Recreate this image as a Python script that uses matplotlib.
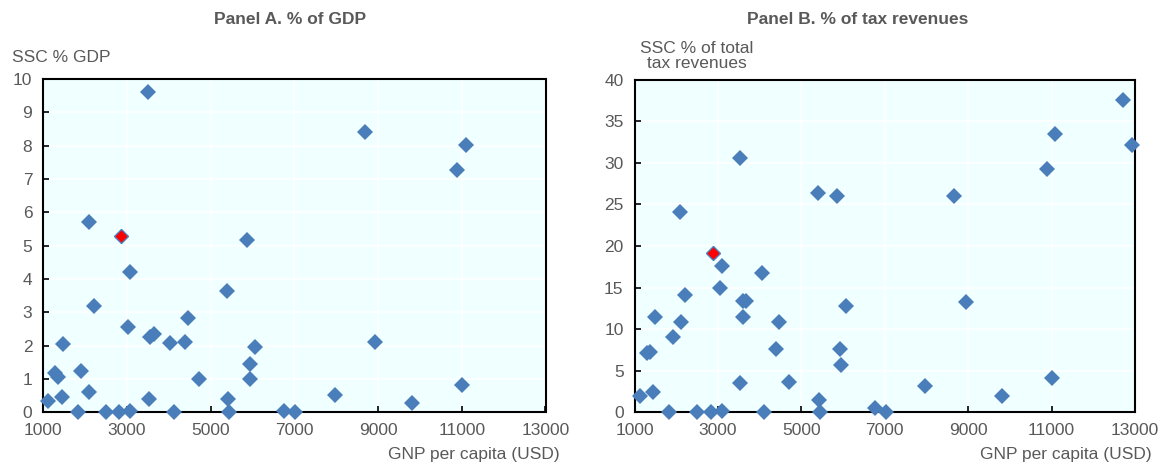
import matplotlib
matplotlib.use('Agg')
import matplotlib.pyplot as plt
from matplotlib.ticker import MultipleLocator

# ── Data ─────────────────────────────────────────────────────────────────────
gnp_a = [1118, 1278, 1358, 1439, 1478, 1838, 1895, 2078, 2087, 2198,
         2503, 2798, 3024, 3079, 3079, 3511, 3523, 3559, 3655, 4027,
         4118, 4375, 4464, 4711, 5383, 5400, 5424, 5863, 5928, 5942,
         6055, 6759, 7015, 7959, 8679, 8936, 9817, 10887, 11000, 11089]
ssc_gdp = [0.35, 1.17, 1.07, 0.45, 2.05, 0.0, 1.25, 5.72, 0.61, 3.20,
           0.0, 0.0, 2.57, 4.22, 0.05, 9.60, 0.39, 2.27, 2.34, 2.07,
           0.0, 2.12, 2.83, 1.00, 3.64, 0.39, 0.0, 5.17, 1.44, 1.00,
           1.95, 0.05, 0.0, 0.52, 8.40, 2.12, 0.27, 7.28, 0.82, 8.03]

gnp_b = [1127, 1288, 1367, 1446, 1494, 1830, 1911, 2086, 2110, 2206,
         2487, 2830, 3046, 3093, 3093, 3525, 3525, 3590, 3669, 3590,
         4060, 4100, 4389, 4468, 4707, 5403, 5412, 5444, 5858, 5924,
         5948, 6067, 6763, 7019, 7962, 8664, 8937, 9815, 10887, 11000,
         11087, 12703, 12918]
ssc_tax = [2.0, 7.1, 7.3, 2.5, 11.4, 0.0, 9.0, 24.1, 10.9, 14.1,
           0.0, 0.0, 15.0, 17.6, 0.2, 30.6, 3.5, 13.4, 13.4, 11.4,
           16.7, 0.0, 7.6, 10.8, 3.7, 26.3, 1.5, 0.0, 26.0, 7.6,
           5.7, 12.8, 0.55, 0.0, 3.2, 26.0, 13.2, 1.96, 29.3, 4.16,
           33.4, 37.5, 32.1]

# highlighted country
hl_gnp_a, hl_gdp = 2855, 5.30
hl_gnp_b, hl_tax = 2870, 19.2

x_ticks = [1000, 3000, 5000, 7000, 9000, 11000, 13000]

# ── Style ────────────────────────────────────────────────────────────────────
FONT = ['Liberation Sans Narrow', 'Liberation Sans', 'DejaVu Sans']
plt.rcParams['font.family'] = FONT
TXT = '#595959'
BLUE = '#4A7EBB'
BG = '#F0FFFF'

W, H = 1166, 466
fig = plt.figure(figsize=(W / 100, H / 100), dpi=100)


def px_axes(l, r, t, b):
    return fig.add_axes([l / W, 1 - b / H, (r - l) / W, (b - t) / H])


def style(ax, ymax, ystep):
    ax.set_facecolor(BG)
    ax.set_xlim(1000, 13000)
    ax.set_ylim(0, ymax)
    ax.set_xticks(x_ticks)
    ax.yaxis.set_major_locator(MultipleLocator(ystep))
    ax.grid(True, color='white', linewidth=1.2)
    ax.set_axisbelow(True)
    for s in ax.spines.values():
        s.set_color('black')
        s.set_linewidth(1.5)
    ax.tick_params(direction='in', length=4, width=1.2, color='black',
                   labelcolor=TXT, labelsize=12.5, pad=8)


ax1 = px_axes(43.4, 545.5, 79, 412.3)
ax2 = px_axes(634.7, 1135, 79.5, 412.3)

style(ax1, 10, 1)
style(ax2, 40, 5)

MS = 7.8
ax1.plot(gnp_a, ssc_gdp, 'D', color=BLUE, ms=MS, mew=0, clip_on=False, zorder=3)
ax1.plot([hl_gnp_a], [hl_gdp], 'D', color='red', mec=BLUE, mew=1, ms=MS - 1,
         clip_on=False, zorder=4)
ax2.plot(gnp_b, ssc_tax, 'D', color=BLUE, ms=MS, mew=0, clip_on=False, zorder=3)
ax2.plot([hl_gnp_b], [hl_tax], 'D', color='red', mec=BLUE, mew=1, ms=MS - 1,
         clip_on=False, zorder=4)

# titles and axis captions
fig.text(290 / W, 1 - 20 / H, 'Panel A. % of GDP', ha='center', va='center',
         fontsize=12.5, fontweight='bold', color=TXT)
fig.text(858 / W, 1 - 20 / H, 'Panel B. % of tax revenues', ha='center',
         va='center', fontsize=12.5, fontweight='bold', color=TXT)
fig.text(12 / W, 1 - 57 / H, 'SSC % GDP', ha='left', va='center',
         fontsize=12.5, color=TXT)
fig.text(697 / W, 1 - 56 / H, 'SSC % of total\ntax revenues', ha='center',
         va='center', fontsize=12.5, color=TXT, linespacing=1.0)
fig.text(560 / W, 1 - 455 / H, 'GNP per capita (USD)', ha='right',
         va='center', fontsize=12.5, color=TXT)
fig.text(1152 / W, 1 - 455 / H, 'GNP per capita (USD)', ha='right',
         va='center', fontsize=12.5, color=TXT)

fig.savefig('out.png', dpi=100, facecolor='white')
